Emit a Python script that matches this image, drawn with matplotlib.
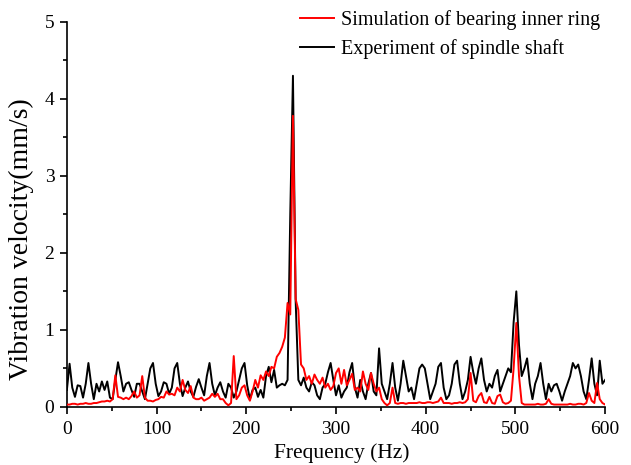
import numpy as np
import matplotlib
matplotlib.use("Agg")
import matplotlib.pyplot as plt
from matplotlib.ticker import MultipleLocator

plt.rcParams['font.family'] = ['Liberation Serif', 'DejaVu Serif']
plt.rcParams['mathtext.fontset'] = 'stix'

# Frequency grid (Hz), 3 Hz step from 0 to 600
freq = np.arange(0, 601, 3)

# Experiment of spindle shaft (black)
experiment = [
    0.22, 0.56, 0.25, 0.13, 0.28, 0.27, 0.12, 0.30, 0.57, 0.30,   # 0-27
    0.10, 0.30, 0.20, 0.33, 0.22, 0.33, 0.12, 0.10, 0.35, 0.58,   # 30-57
    0.40, 0.20, 0.30, 0.32, 0.22, 0.13, 0.30, 0.30, 0.20, 0.10,   # 60-87
    0.30, 0.50, 0.57, 0.30, 0.14, 0.20, 0.32, 0.30, 0.17, 0.25,   # 90-117
    0.50, 0.57, 0.30, 0.14, 0.25, 0.33, 0.20, 0.13, 0.26, 0.36,   # 120-147
    0.25, 0.15, 0.40, 0.57, 0.30, 0.15, 0.25, 0.32, 0.20, 0.12,   # 150-177
    0.30, 0.25, 0.12, 0.20, 0.35, 0.50, 0.57, 0.28, 0.10, 0.22,   # 180-207
    0.25, 0.13, 0.22, 0.12, 0.40, 0.52, 0.32, 0.48, 0.25, 0.28,   # 210-237
    0.30, 0.28, 0.35, 2.50, 4.30, 1.38, 0.35, 0.28, 0.38, 0.25,   # 240-267
    0.20, 0.32, 0.28, 0.15, 0.10, 0.25, 0.30, 0.45, 0.57, 0.35,   # 270-297
    0.15, 0.28, 0.12, 0.20, 0.25, 0.45, 0.57, 0.25, 0.12, 0.35,   # 300-327
    0.20, 0.10, 0.30, 0.44, 0.20, 0.15, 0.76, 0.30, 0.20, 0.10,   # 330-357
    0.30, 0.57, 0.25, 0.08, 0.30, 0.60, 0.40, 0.20, 0.25, 0.10,   # 360-387
    0.30, 0.50, 0.55, 0.50, 0.30, 0.10, 0.20, 0.30, 0.52, 0.57,   # 390-417
    0.25, 0.10, 0.15, 0.30, 0.55, 0.60, 0.30, 0.10, 0.20, 0.35,   # 420-447
    0.65, 0.45, 0.30, 0.50, 0.63, 0.35, 0.20, 0.30, 0.25, 0.40,   # 450-477
    0.48, 0.20, 0.30, 0.40, 0.50, 0.45, 1.10, 1.50, 0.80, 0.40,   # 480-507
    0.50, 0.63, 0.30, 0.10, 0.30, 0.40, 0.57, 0.30, 0.10, 0.30,   # 510-537
    0.20, 0.28, 0.30, 0.20, 0.08, 0.20, 0.30, 0.40, 0.57, 0.50,   # 540-567
    0.55, 0.40, 0.20, 0.10, 0.35, 0.63, 0.30, 0.15, 0.60, 0.30,   # 570-597
    0.35,                                                         # 600
]

# Simulation of bearing inner ring (red)
simulation = [
    0.03, 0.03, 0.04, 0.04, 0.03, 0.04, 0.04, 0.05, 0.04, 0.04,   # 0-27
    0.05, 0.05, 0.06, 0.07, 0.07, 0.08, 0.07, 0.10, 0.41, 0.13,   # 30-57
    0.12, 0.10, 0.12, 0.10, 0.14, 0.20, 0.12, 0.15, 0.40, 0.12,   # 60-87
    0.08, 0.08, 0.07, 0.09, 0.10, 0.13, 0.12, 0.20, 0.16, 0.17,   # 90-117
    0.15, 0.25, 0.20, 0.35, 0.22, 0.18, 0.27, 0.12, 0.10, 0.10,   # 120-147
    0.12, 0.08, 0.10, 0.12, 0.17, 0.13, 0.17, 0.10, 0.10, 0.05,   # 150-177
    0.02, 0.05, 0.66, 0.10, 0.15, 0.25, 0.28, 0.15, 0.08, 0.20,   # 180-207
    0.35, 0.25, 0.41, 0.35, 0.46, 0.40, 0.52, 0.50, 0.65, 0.70,   # 210-237
    0.78, 0.90, 1.35, 1.20, 3.78, 1.40, 1.26, 0.55, 0.50, 0.35,   # 240-267
    0.40, 0.30, 0.42, 0.35, 0.30, 0.38, 0.25, 0.30, 0.22, 0.27,   # 270-297
    0.44, 0.50, 0.30, 0.48, 0.28, 0.35, 0.43, 0.22, 0.25, 0.20,   # 300-327
    0.46, 0.30, 0.22, 0.44, 0.30, 0.20, 0.25, 0.10, 0.05, 0.02,   # 330-357
    0.05, 0.25, 0.05, 0.04, 0.05, 0.05, 0.04, 0.05, 0.05, 0.05,   # 360-387
    0.05, 0.06, 0.05, 0.05, 0.06, 0.06, 0.05, 0.06, 0.07, 0.12,   # 390-417
    0.05, 0.05, 0.05, 0.04, 0.05, 0.05, 0.06, 0.05, 0.06, 0.10,   # 420-447
    0.44, 0.08, 0.06, 0.14, 0.18, 0.06, 0.05, 0.13, 0.05, 0.04,   # 450-477
    0.14, 0.16, 0.06, 0.04, 0.05, 0.08, 0.50, 1.09, 0.40, 0.05,   # 480-507
    0.03, 0.03, 0.03, 0.03, 0.03, 0.04, 0.03, 0.03, 0.04, 0.10,   # 510-537
    0.04, 0.03, 0.03, 0.03, 0.03, 0.03, 0.03, 0.04, 0.03, 0.03,   # 540-567
    0.04, 0.04, 0.03, 0.05, 0.18, 0.08, 0.05, 0.31, 0.10, 0.05,   # 570-597
    0.03,                                                         # 600
]

series_labels = ["Simulation of bearing inner ring", "Experiment of spindle shaft"]
x_label = "Frequency (Hz)"
y_label = "Vibration velocity(mm/s)"

fig = plt.figure(figsize=(6.31, 4.65), dpi=100)
ax = fig.add_axes([0.106, 0.125, 0.853, 0.828])

l_sim, = ax.plot(freq, simulation, color="#ff0000", lw=1.4, zorder=3)
l_exp, = ax.plot(freq, experiment, color="black", lw=1.4, zorder=2)

ax.set_xlim(0, 600)
ax.set_ylim(0, 5)
ax.xaxis.set_major_locator(MultipleLocator(100))
ax.xaxis.set_minor_locator(MultipleLocator(50))
ax.yaxis.set_major_locator(MultipleLocator(1))
ax.yaxis.set_minor_locator(MultipleLocator(0.5))

for s in ["top", "right"]:
    ax.spines[s].set_visible(False)
for s in ["left", "bottom"]:
    ax.spines[s].set_linewidth(1.2)

ax.tick_params(which="major", direction="out", length=5, width=1.2, labelsize=14)
ax.tick_params(axis="x", which="major", pad=5)
ax.tick_params(axis="y", which="major", pad=4)
ax.tick_params(which="minor", direction="out", length=3, width=1.2)

ax.set_xlabel(x_label, fontsize=15.5)
ax.xaxis.set_label_coords(0.511, -0.095)
ax.set_ylabel(y_label, fontsize=20)
ax.yaxis.set_label_coords(-0.061, 0.436)

leg = ax.legend([l_sim, l_exp], series_labels, loc="upper right",
                bbox_to_anchor=(1.006, 1.052), frameon=False, fontsize=14.5,
                handlelength=1.7, handletextpad=0.35, labelspacing=0.45,
                borderaxespad=0.0)

fig.savefig("out.png", dpi=100)
